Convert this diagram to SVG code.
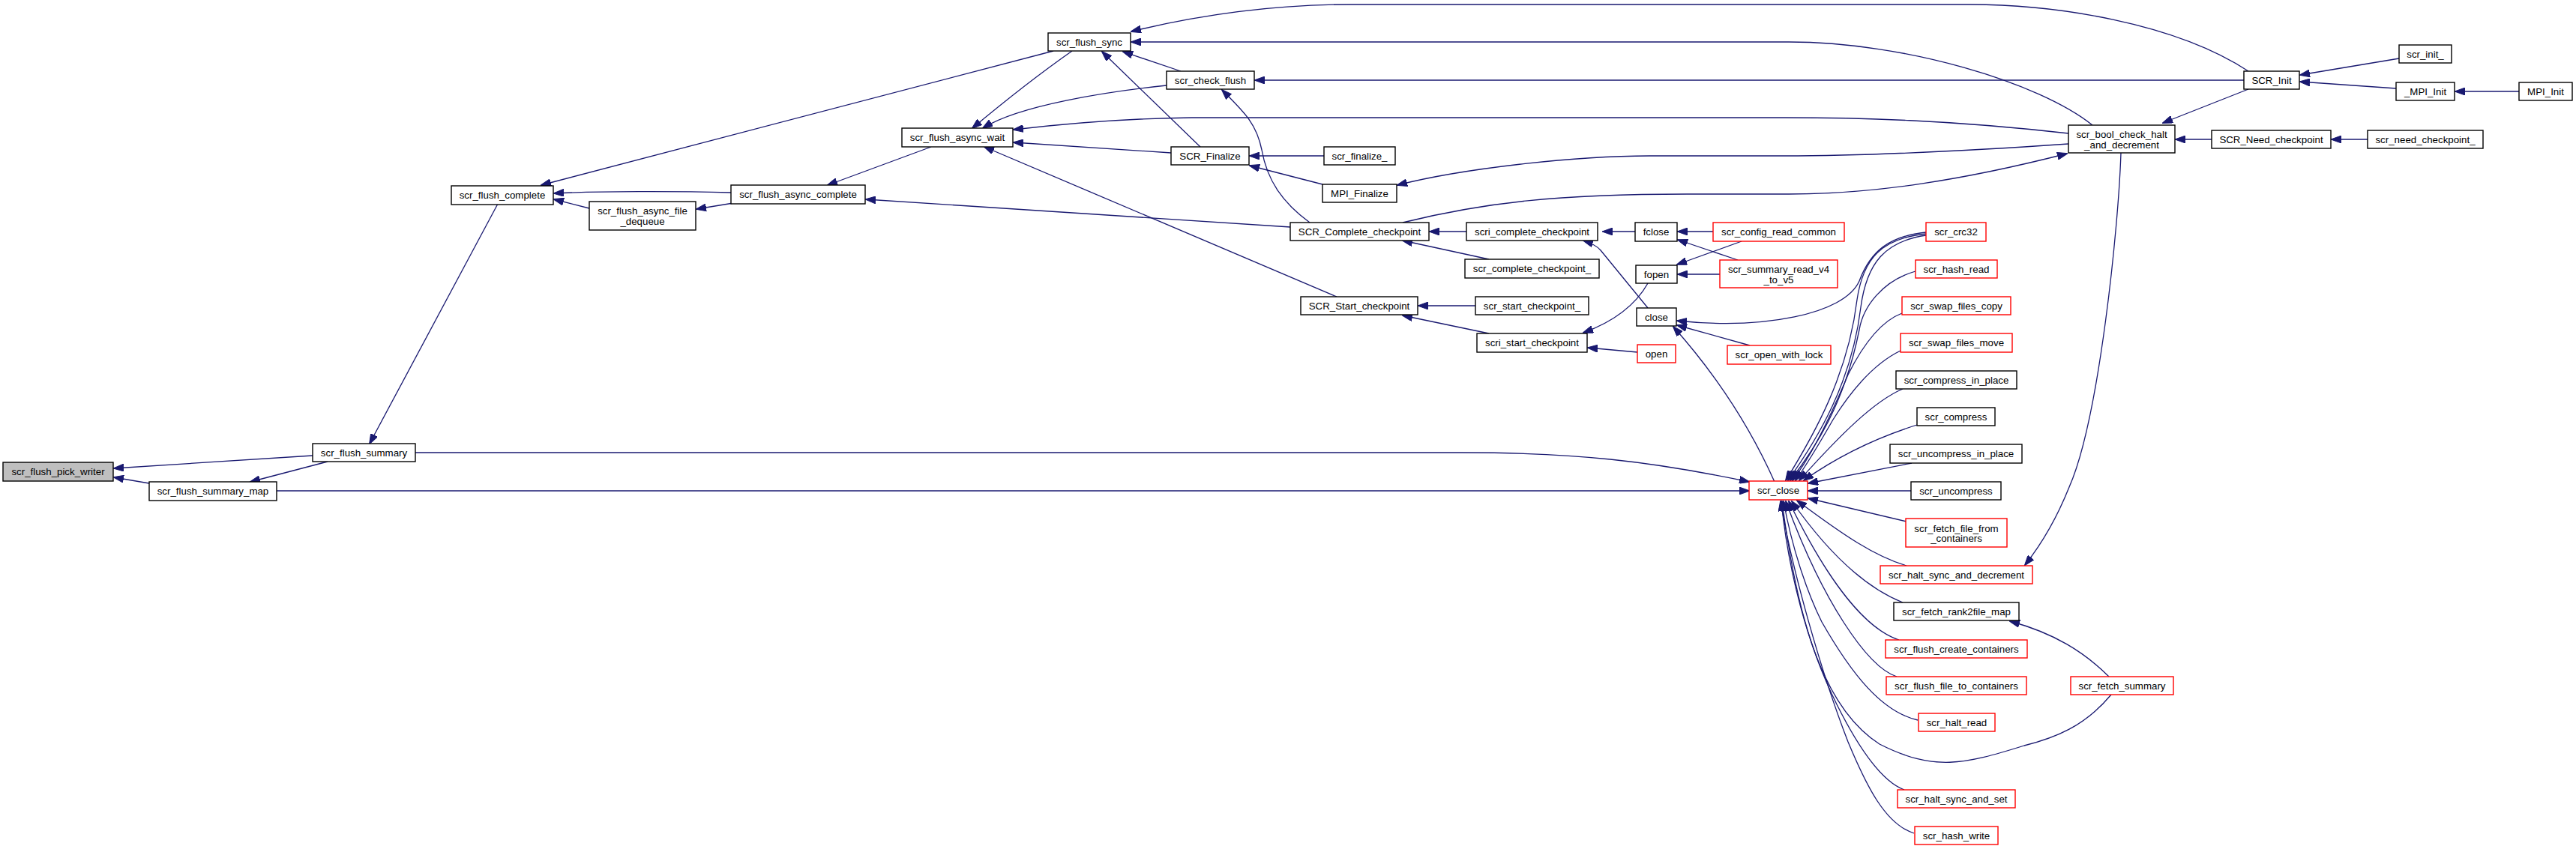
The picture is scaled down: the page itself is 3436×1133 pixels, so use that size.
<svg xmlns="http://www.w3.org/2000/svg" width="3436" height="1133" viewBox="0 0 3436 1133">
<style>
.n rect{fill:#fff;stroke:#000;stroke-width:1.4}
.r rect{stroke:#ff0000}
.g rect{fill:#bfbfbf}
.n text{font-family:"Liberation Sans",Arial,Helvetica,sans-serif;font-size:13.3px;text-anchor:middle;fill:#000}
#edges path{fill:none;stroke:#191970;stroke-width:1.3;marker-end:url(#ah)}
</style>
<defs>
<marker id="ah" viewBox="0 0 14 10" refX="13" refY="5" markerWidth="14" markerHeight="10" markerUnits="userSpaceOnUse" orient="auto">
<path d="M0,0 L14,5 L0,10 z" fill="#191970" stroke="#191970" stroke-width="1"/>
</marker>
</defs>
<rect width="3436" height="1133" fill="#fff"/>
<g id="edges">
<path d="M417,608 L152,625"/>
<path d="M199,645 L152,637"/>
<path d="M437,616 L334,643"/>
<path d="M664,272 L493,592"/>
<path d="M554,604 L1950,604 C2100,604 2200,615 2333,643"/>
<path d="M369,655 L2333,655"/>
<path d="M975,257 C900,255 800,255 739,258"/>
<path d="M786,278 L739,266"/>
<path d="M978,271 L929,279"/>
<path d="M1405,68 L722,247"/>
<path d="M1242,196 L1104,247"/>
<path d="M1430,68 Q1370,110 1297,171"/>
<path d="M1556,114 C1480,122 1360,140 1311,171"/>
<path d="M2759,178 C2600,160 2480,157 2380,157 L1590,157 C1500,158 1420,165 1352,173"/>
<path d="M1562,204 L1352,190"/>
<path d="M1721,303 L1155,266"/>
<path d="M1783,396 L1313,196"/>
<path d="M1601,196 L1470,69"/>
<path d="M1575,95 L1498,69"/>
<path d="M1747,297 C1710,270 1690,240 1683,200 C1676,165 1660,150 1630,120"/>
<path d="M1766,208 L1667,208"/>
<path d="M1764,246 L1667,221"/>
<path d="M1956,309 L1907,309"/>
<path d="M1986,346 L1871,321"/>
<path d="M1968,408 L1892,408"/>
<path d="M1986,445 L1871,421"/>
<path d="M2181,309 L2138,309"/>
<path d="M2198,411 L2135,334 Q2128,326 2112,321"/>
<path d="M2198,378 C2180,410 2150,430 2112,444"/>
<path d="M2184,470 L2118,464"/>
<path d="M2285,309 L2238,309"/>
<path d="M2318,347 L2238,320"/>
<path d="M2323,322 L2237,353"/>
<path d="M2294,366 L2238,366"/>
<path d="M2569,310 C2520,315 2495,335 2480,375 C2460,420 2350,440 2237,428"/>
<path d="M2334,461 L2237,434"/>
<path d="M2367,643 C2330,560 2280,490 2232,436"/>
<path d="M2569,312 C2510,318 2485,345 2477,400 C2465,500 2420,580 2382,641"/>
<path d="M2569,314 C2515,322 2490,350 2482,410 C2470,510 2425,585 2385,641"/>
<path d="M2555,362 C2510,375 2485,410 2480,440 C2460,540 2420,600 2388,641"/>
<path d="M2537,418 C2505,430 2480,470 2465,500 C2440,560 2415,610 2391,641"/>
<path d="M2535,468 C2500,485 2470,520 2445,560 C2425,595 2410,620 2395,641"/>
<path d="M2538,519 C2500,535 2455,580 2400,641"/>
<path d="M2557,567 C2500,585 2450,610 2406,641"/>
<path d="M2550,618 L2412,645"/>
<path d="M2549,655 L2412,655"/>
<path d="M2543,696 L2412,665"/>
<path d="M2543,755 C2500,742 2460,715 2397,668"/>
<path d="M2538,804 C2490,785 2440,740 2390,669"/>
<path d="M2533,854 C2490,840 2440,780 2386,669"/>
<path d="M2530,903 C2490,890 2430,800 2382,669"/>
<path d="M2558,961 C2510,950 2470,900 2430,830 C2410,790 2390,730 2379,669"/>
<path d="M2816,927 C2780,970 2740,985 2700,995 C2620,1020 2580,1030 2507,993 C2440,950 2400,850 2377,669"/>
<path d="M2540,1054 C2510,1043 2480,1000 2450,940 C2410,860 2385,760 2376,669"/>
<path d="M2553,1112 C2515,1100 2490,1050 2465,990 C2430,900 2390,760 2375,669"/>
<path d="M2813,903 C2780,870 2740,845 2681,829"/>
<path d="M2829,204 C2826,300 2800,560 2760,650 C2740,700 2720,730 2701,754"/>
<path d="M2999,95 C2900,30 2740,6 2628,6 L1802,6 C1700,6 1600,20 1509,42"/>
<path d="M2791,167 C2720,110 2540,56 2386,56 L1509,56"/>
<path d="M2993,107 L1674,107"/>
<path d="M2759,192 C2600,203 2470,208 2380,208 L2200,208 C2100,208 1950,225 1864,247"/>
<path d="M1871,297 C1980,270 2080,259 2250,259 L2386,259 C2500,259 2620,240 2757,205"/>
<path d="M2999,119 L2885,164"/>
<path d="M3200,78 L3068,100"/>
<path d="M3196,118 L3068,109"/>
<path d="M3360,122 L3275,122"/>
<path d="M2950,186 L2902,186"/>
<path d="M3158,186 L3110,186"/>
</g>
<g id="n1" class="n g"><rect x="4" y="617" width="147" height="25"/><text x="77.5" y="634.2">scr_flush_pick_writer</text></g>
<g id="n2" class="n"><rect x="417" y="592" width="137" height="24"/><text x="485.5" y="608.7">scr_flush_summary</text></g>
<g id="n3" class="n"><rect x="199" y="643" width="170" height="25"/><text x="284" y="660.2">scr_flush_summary_map</text></g>
<g id="n4" class="n"><rect x="602" y="248" width="136" height="25"/><text x="670" y="265.2">scr_flush_complete</text></g>
<g id="n5" class="n"><rect x="786" y="269" width="142" height="38"/><text x="857" y="286">scr_flush_async_file</text><text x="857" y="300">_dequeue</text></g>
<g id="n6" class="n"><rect x="975" y="247" width="179" height="25"/><text x="1064.5" y="264.2">scr_flush_async_complete</text></g>
<g id="n7" class="n"><rect x="1203" y="171" width="148" height="25"/><text x="1277" y="188.2">scr_flush_async_wait</text></g>
<g id="n8" class="n"><rect x="1398" y="44" width="110" height="24"/><text x="1453" y="60.7">scr_flush_sync</text></g>
<g id="n9" class="n"><rect x="1556" y="95" width="117" height="24"/><text x="1614.5" y="111.7">scr_check_flush</text></g>
<g id="n10" class="n"><rect x="1562" y="196" width="104" height="24"/><text x="1614" y="212.7">SCR_Finalize</text></g>
<g id="n11" class="n"><rect x="1766" y="196" width="95" height="24"/><text x="1813.5" y="212.7">scr_finalize_</text></g>
<g id="n12" class="n"><rect x="1764" y="246" width="99" height="24"/><text x="1813.5" y="262.7">MPI_Finalize</text></g>
<g id="n13" class="n"><rect x="1721" y="297" width="185" height="24"/><text x="1813.5" y="313.7">SCR_Complete_checkpoint</text></g>
<g id="n14" class="n"><rect x="1956" y="297" width="175" height="24"/><text x="2043.5" y="313.7">scri_complete_checkpoint</text></g>
<g id="n15" class="n"><rect x="1954" y="346" width="179" height="25"/><text x="2043.5" y="363.2">scr_complete_checkpoint_</text></g>
<g id="n16" class="n"><rect x="1735" y="396" width="156" height="24"/><text x="1813" y="412.7">SCR_Start_checkpoint</text></g>
<g id="n17" class="n"><rect x="1968" y="396" width="151" height="24"/><text x="2043.5" y="412.7">scr_start_checkpoint_</text></g>
<g id="n18" class="n"><rect x="1970" y="445" width="147" height="25"/><text x="2043.5" y="462.2">scri_start_checkpoint</text></g>
<g id="n19" class="n"><rect x="2181" y="297" width="56" height="25"/><text x="2209" y="314.2">fclose</text></g>
<g id="n20" class="n"><rect x="2182" y="354" width="55" height="24"/><text x="2209.5" y="370.7">fopen</text></g>
<g id="n21" class="n"><rect x="2183" y="411" width="53" height="24"/><text x="2209.5" y="427.7">close</text></g>
<g id="n22" class="n r"><rect x="2184" y="460" width="51" height="24"/><text x="2209.5" y="476.7">open</text></g>
<g id="n23" class="n r"><rect x="2285" y="297" width="175" height="25"/><text x="2372.5" y="314.2">scr_config_read_common</text></g>
<g id="n24" class="n r"><rect x="2294" y="347" width="157" height="37"/><text x="2372.5" y="364">scr_summary_read_v4</text><text x="2372.5" y="378">_to_v5</text></g>
<g id="n25" class="n r"><rect x="2304" y="461" width="138" height="25"/><text x="2373" y="478.2">scr_open_with_lock</text></g>
<g id="n26" class="n r"><rect x="2333" y="642" width="78" height="25"/><text x="2372" y="659.2">scr_close</text></g>
<g id="n27" class="n r"><rect x="2569" y="297" width="80" height="25"/><text x="2609" y="314.2">scr_crc32</text></g>
<g id="n28" class="n r"><rect x="2555" y="347" width="109" height="24"/><text x="2609.5" y="363.7">scr_hash_read</text></g>
<g id="n29" class="n r"><rect x="2537" y="396" width="145" height="24"/><text x="2609.5" y="412.7">scr_swap_files_copy</text></g>
<g id="n30" class="n r"><rect x="2535" y="445" width="149" height="25"/><text x="2609.5" y="462.2">scr_swap_files_move</text></g>
<g id="n31" class="n"><rect x="2529" y="495" width="161" height="24"/><text x="2609.5" y="511.7">scr_compress_in_place</text></g>
<g id="n32" class="n"><rect x="2557" y="544" width="104" height="24"/><text x="2609" y="560.7">scr_compress</text></g>
<g id="n33" class="n"><rect x="2521" y="593" width="176" height="25"/><text x="2609" y="610.2">scr_uncompress_in_place</text></g>
<g id="n34" class="n"><rect x="2549" y="643" width="120" height="24"/><text x="2609" y="659.7">scr_uncompress</text></g>
<g id="n35" class="n r"><rect x="2542" y="692" width="135" height="38"/><text x="2609.5" y="710">scr_fetch_file_from</text><text x="2609.5" y="723">_containers</text></g>
<g id="n36" class="n r"><rect x="2508" y="755" width="203" height="24"/><text x="2609.5" y="771.7">scr_halt_sync_and_decrement</text></g>
<g id="n37" class="n"><rect x="2526" y="804" width="167" height="24"/><text x="2609.5" y="820.7">scr_fetch_rank2file_map</text></g>
<g id="n38" class="n r"><rect x="2515" y="854" width="189" height="24"/><text x="2609.5" y="870.7">scr_flush_create_containers</text></g>
<g id="n39" class="n r"><rect x="2516" y="903" width="187" height="24"/><text x="2609.5" y="919.7">scr_flush_file_to_containers</text></g>
<g id="n40" class="n r"><rect x="2762" y="903" width="137" height="24"/><text x="2830.5" y="919.7">scr_fetch_summary</text></g>
<g id="n41" class="n r"><rect x="2559" y="952" width="102" height="24"/><text x="2610" y="968.7">scr_halt_read</text></g>
<g id="n42" class="n r"><rect x="2531" y="1054" width="157" height="24"/><text x="2609.5" y="1070.7">scr_halt_sync_and_set</text></g>
<g id="n43" class="n r"><rect x="2554" y="1103" width="111" height="24"/><text x="2609.5" y="1119.7">scr_hash_write</text></g>
<g id="n44" class="n"><rect x="2759" y="167" width="142" height="37"/><text x="2830" y="184">scr_bool_check_halt</text><text x="2830" y="198">_and_decrement</text></g>
<g id="n45" class="n"><rect x="2950" y="174" width="159" height="24"/><text x="3029.5" y="190.7">SCR_Need_checkpoint</text></g>
<g id="n46" class="n"><rect x="3158" y="174" width="154" height="24"/><text x="3235" y="190.7">scr_need_checkpoint_</text></g>
<g id="n47" class="n"><rect x="2993" y="95" width="74" height="24"/><text x="3030" y="111.7">SCR_Init</text></g>
<g id="n48" class="n"><rect x="3200" y="60" width="70" height="24"/><text x="3235" y="76.7">scr_init_</text></g>
<g id="n49" class="n"><rect x="3196" y="110" width="78" height="24"/><text x="3235" y="126.7">_MPI_Init</text></g>
<g id="n50" class="n"><rect x="3360" y="110" width="71" height="24"/><text x="3395.5" y="126.7">MPI_Init</text></g>
</svg>
